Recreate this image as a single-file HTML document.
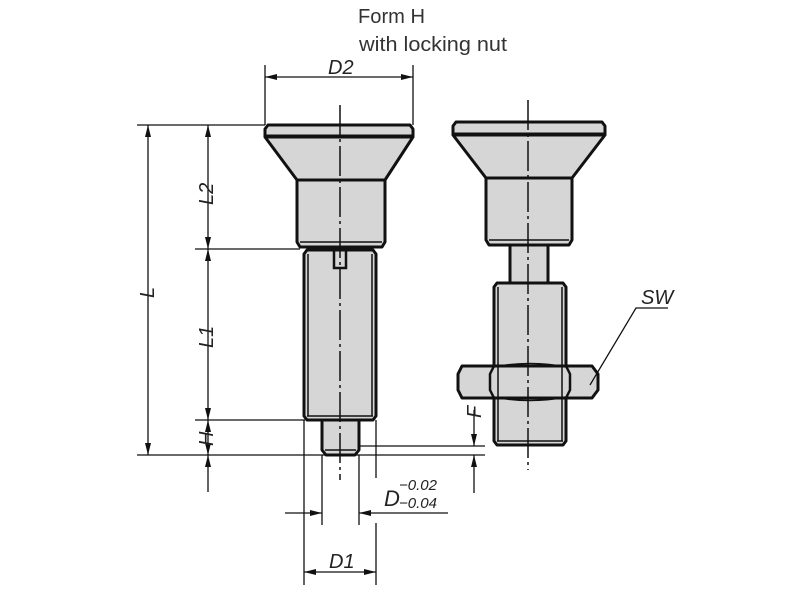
<!DOCTYPE html>
<html><head><meta charset="utf-8"><style>html,body{margin:0;padding:0;background:#fff}svg{display:block}</style></head>
<body>
<svg width="800" height="600" viewBox="0 0 800 600" xmlns="http://www.w3.org/2000/svg" font-family="Liberation Sans, sans-serif">
<defs>
<marker id="a" viewBox="0 0 12 6" refX="12" refY="3" markerWidth="12" markerHeight="6" markerUnits="userSpaceOnUse" orient="auto-start-reverse"><path d="M0,0L12,3L0,6z" fill="#111"/></marker>
</defs>
<text x="358" y="23" font-size="20" fill="#333" textLength="67" lengthAdjust="spacingAndGlyphs">Form H</text>
<text x="359" y="51" font-size="20" fill="#333" textLength="148" lengthAdjust="spacingAndGlyphs">with locking nut</text>

<g stroke="#111" stroke-width="3" fill="#d6d6d6" stroke-linejoin="round">
<path d="M268,125 H410 L413,129 V136 H265 V129 Z"/>
<path d="M265,137 H413 L385,180 H297 Z"/>
<path d="M297,180 H385 V242 L382,247 H300 L297,242 Z"/>
<path d="M307,250 H373 L376,254 V416 L373,420 H307 L304,416 V254 Z"/>
<path d="M322,420 H359 V450 L355,455 H326 L322,450 Z"/>
<path d="M456,122 H602 L605,126 V134 H453 V126 Z"/>
<path d="M453,135 H605 L572,178 H486 Z"/>
<path d="M486,178 H572 V240 L569,245 H489 L486,240 Z"/>
<path d="M510,245 H548 V283 H510 Z"/>
<path d="M497,283 H563 L566,287 V441 L563,445 H497 L494,441 V287 Z"/>
<path d="M462,366 L458,374 V390 L462,398 H592 L598,390 V374 L592,366 Z"/>
</g>
<g stroke="#111" stroke-width="1.5" fill="none">
<line x1="268" y1="137" x2="410" y2="137" stroke-width="3"/>
<line x1="300" y1="242" x2="382" y2="242"/>
<line x1="308" y1="254" x2="308" y2="416"/><line x1="372" y1="254" x2="372" y2="416"/>
<line x1="307" y1="416" x2="373" y2="416"/>
<line x1="325" y1="450" x2="356" y2="450"/>
<path d="M334,250 V268 H346 V250" stroke-width="2.5"/>
<line x1="489" y1="240" x2="569" y2="240"/>
<line x1="498" y1="287" x2="498" y2="441"/><line x1="562" y1="287" x2="562" y2="441"/>
<line x1="497" y1="441" x2="563" y2="441"/>
<path d="M494,366 L490,374 V390 L494,398 M566,366 L570,374 V390 L566,398" stroke-width="2.5"/>
<path d="M494,367 Q530,360 566,367 M494,397 Q530,404 566,397"/>
<path d="M340,105 V480" stroke-dasharray="30,4,3,4"/>
<path d="M528,100 V470" stroke-dasharray="30,4,3,4"/>
</g>
<g stroke="#111" stroke-width="1.3" fill="none">
<line x1="137" y1="125" x2="265" y2="125"/>
<line x1="195" y1="249" x2="300" y2="249"/>
<line x1="195" y1="420" x2="305" y2="420"/>
<line x1="137" y1="455" x2="485" y2="455"/>
<line x1="360" y1="446" x2="485" y2="446"/>
<line x1="265" y1="65" x2="265" y2="125"/>
<line x1="413" y1="65" x2="413" y2="125"/>
<line x1="304" y1="420" x2="304" y2="585"/>
<line x1="376" y1="420" x2="376" y2="478"/>
<line x1="376" y1="523" x2="376" y2="585"/>
<line x1="322" y1="455" x2="322" y2="525"/>
<line x1="359" y1="455" x2="359" y2="525"/>
<line x1="265" y1="77" x2="413" y2="77" marker-start="url(#a)" marker-end="url(#a)"/>
<line x1="148" y1="125" x2="148" y2="455" marker-start="url(#a)" marker-end="url(#a)"/>
<line x1="208" y1="125" x2="208" y2="249" marker-start="url(#a)" marker-end="url(#a)"/>
<line x1="208" y1="249" x2="208" y2="420" marker-start="url(#a)" marker-end="url(#a)"/>
<line x1="208" y1="420" x2="208" y2="455" marker-start="url(#a)" marker-end="url(#a)"/>
<line x1="208" y1="492" x2="208" y2="455" marker-end="url(#a)"/>
<line x1="474" y1="410" x2="474" y2="446" marker-end="url(#a)"/>
<line x1="474" y1="493" x2="474" y2="455" marker-end="url(#a)"/>
<line x1="285" y1="513" x2="322" y2="513" marker-end="url(#a)"/>
<line x1="448" y1="513" x2="359" y2="513" marker-end="url(#a)"/>
<line x1="304" y1="572" x2="376" y2="572" marker-start="url(#a)" marker-end="url(#a)"/>
<path d="M668,308 H636 L590,385"/>
</g>
<g font-size="20" fill="#222" font-style="italic">
<text x="328" y="74">D2</text>
<text x="329" y="568">D1</text>
<text x="384" y="506" font-size="22">D</text>
<text x="399" y="490" font-size="15">−0.02</text>
<text x="399" y="508" font-size="15">−0.04</text>
<text x="641" y="304">SW</text>
<text transform="translate(154,298) rotate(-90)">L</text>
<text transform="translate(213,205) rotate(-90)">L2</text>
<text transform="translate(213,348) rotate(-90)">L1</text>
<text transform="translate(213,446) rotate(-90)">H</text>
<text transform="translate(481,418) rotate(-90)">F</text>
</g>
</svg>
</body></html>
